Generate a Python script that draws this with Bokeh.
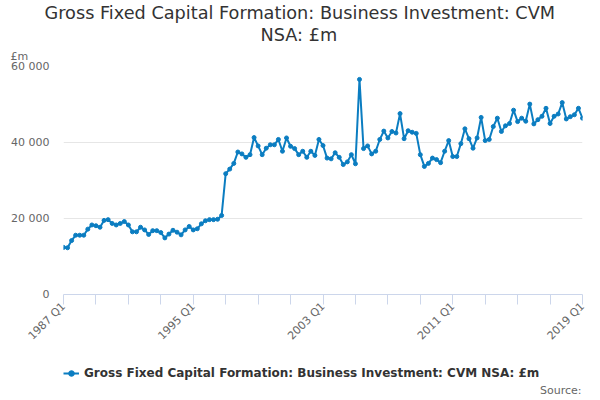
from bokeh.plotting import figure
from bokeh.layouts import column
from bokeh.models import ColumnDataSource, FixedTicker, Legend, LegendItem, Label, Title
from bokeh.embed import file_html
from bokeh.resources import INLINE
import math

# Business investment, CVM NSA, £m, quarterly 1987 Q1 .. 2019 Q1
start_year = 1987
values = [
    12400, 12300, 14200, 15600, 15600, 15600, 17200, 18300, 18100, 17700,
    19500, 19700, 18700, 18300, 18700, 19200, 18300, 16500, 16500, 17700,
    17000, 15800, 16800, 16800, 16300, 14900, 15900, 16900, 16400, 15700,
    17000, 17900, 17000, 17300, 18600, 19400, 19700, 19700, 19800, 20800,
    31800, 33000, 34500, 37500, 37000, 36100, 36800, 41300, 39100, 36800,
    38500, 39400, 39400, 40800, 37700, 41200, 39000, 38400, 36800, 37700,
    36100, 37700, 36600, 40800, 39200, 35900, 35700, 37300, 36100,
    34200, 34900, 36800, 34400, 56600, 38400, 39100, 37000, 37700, 40800,
    43000, 41200, 42900, 42500, 47600, 41000, 43100, 42700, 42400, 36800,
    33700, 34500, 35900, 35500, 34700, 37700, 40500,
    36300, 36300, 39700, 43600, 41000, 38500, 41200, 46600, 40500, 40800,
    44200, 46400, 42900, 44400, 45000, 48500, 45500, 46400, 45600, 50100,
    44900, 46000, 46900, 49000, 45000, 46900, 47500, 50500, 46200, 46800,
    47300, 49000, 46400,
]
quarters = ["%d Q%d" % (start_year + k // 4, k % 4 + 1) for k in range(len(values))]

x_label_ticks = [0, 32, 64, 96, 128]
x_minor_ticks = [8, 16, 24, 40, 48, 56, 72, 80, 88, 104, 112, 120]
y_ticks = [0, 20000, 40000, 60000]
y_tick_labels = ["0", "20 000", "40 000", "60 000"]

title_line1 = "Gross Fixed Capital Formation: Business Investment: CVM"
title_line2 = "NSA: £m"
unit_label = "£m"
series_name = "Gross Fixed Capital Formation: Business Investment: CVM NSA: £m"
source_text = "Source:"

FONT = "DejaVu Sans"
BLUE = "#0b7dc1"
W = 590

source = ColumnDataSource(data={'x': list(range(len(values))), 'y': values})

# main chart, with the title and unit label in its top panel
chart = figure(width=W, height=350, x_range=(0, 128), y_range=(0, 60000),
               output_backend="svg", toolbar_location=None,
               min_border_left=63, min_border_right=8,
               min_border_top=65, min_border_bottom=55)
chart.outline_line_color = None
chart.title.visible = False

chart.add_layout(Title(text=unit_label, align="left", offset=-53, standoff=7,
                       text_font=FONT, text_font_size="11px", text_font_style="normal",
                       text_color="#666666"), "above")
chart.add_layout(Title(text=title_line2, align="left", offset=197, standoff=0,
                       text_font=FONT, text_font_size="17.7px", text_font_style="normal",
                       text_color="#333333"), "above")
chart.add_layout(Title(text=title_line1, align="left", offset=-19, standoff=0,
                       text_font=FONT, text_font_size="17.7px", text_font_style="normal",
                       text_color="#333333"), "above")

chart.line('x', 'y', source=source, line_color=BLUE, line_width=2)
chart.scatter('x', 'y', source=source, size=4, color=BLUE)

chart.yaxis.ticker = FixedTicker(ticks=y_ticks)
chart.yaxis.major_label_overrides = dict(zip(y_ticks, y_tick_labels))
chart.yaxis.axis_line_color = None
chart.yaxis.major_tick_line_color = None
chart.yaxis.minor_tick_line_color = None
chart.yaxis.major_tick_out = 0
chart.yaxis.minor_tick_out = 0
chart.yaxis.major_label_standoff = 14
chart.yaxis.major_label_text_font = FONT
chart.yaxis.major_label_text_font_size = "11px"
chart.yaxis.major_label_text_color = "#666666"
chart.ygrid.ticker = FixedTicker(ticks=y_ticks)
chart.ygrid.grid_line_color = "#e6e6e6"
chart.xgrid.grid_line_color = None

chart.xaxis.ticker = FixedTicker(ticks=x_label_ticks, minor_ticks=x_minor_ticks)
chart.xaxis.major_label_overrides = {t: quarters[t] for t in x_label_ticks}
chart.xaxis.axis_line_color = "#ccd6eb"
chart.xaxis.major_tick_line_color = "#ccd6eb"
chart.xaxis.minor_tick_line_color = "#ccd6eb"
chart.xaxis.major_tick_in = 0
chart.xaxis.major_tick_out = 10
chart.xaxis.minor_tick_in = 0
chart.xaxis.minor_tick_out = 10
chart.xaxis.major_label_standoff = 0
chart.xaxis.major_label_orientation = math.pi / 4
chart.xaxis.major_label_text_font = FONT
chart.xaxis.major_label_text_font_size = "11px"
chart.xaxis.major_label_text_color = "#666666"

# footer strip: legend and source (its frame lines up with the chart frame)
footer = figure(width=W, height=46, x_range=(63, 582), y_range=(0, 46),
                x_axis_location=None, y_axis_location=None,
                output_backend="svg", toolbar_location=None, min_border=0)
footer.outline_line_color = None
footer.grid.visible = False
# the key glyphs use the series itself; it lies far outside this strip's range
key_line = footer.line('x', 'y', source=source, line_color=BLUE, line_width=2)
key_dot = footer.scatter('x', 'y', source=source, size=4, color=BLUE)
footer.add_layout(Legend(items=[LegendItem(label=series_name,
                                           renderers=[key_line, key_dot])],
                         location=(0, 16), orientation="horizontal",
                         border_line_color=None, background_fill_alpha=0,
                         label_text_font=FONT, label_text_font_size="12px",
                         label_text_font_style="bold", label_text_color="#333333",
                         glyph_width=16, glyph_height=14, label_height=14,
                         label_standoff=5, padding=0, margin=0))
footer.add_layout(Label(x=581, y=6, text=source_text, text_align="right",
                        text_baseline="middle", text_font=FONT,
                        text_font_size="11px", text_color="#666666"))

p = column(chart, footer, spacing=0)

open("out.html", "w").write(file_html(p, INLINE))
